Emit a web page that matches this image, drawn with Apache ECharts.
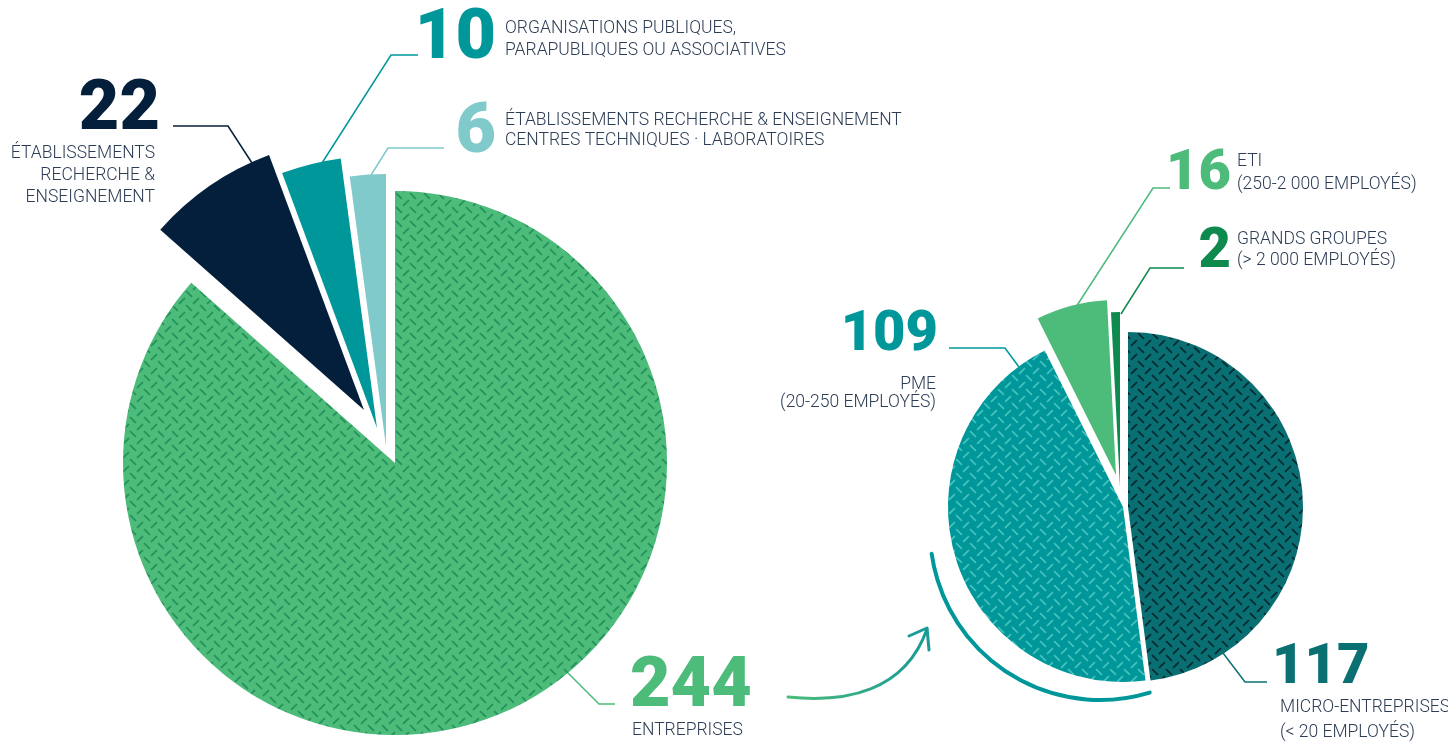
<!DOCTYPE html>
<html>
<head>
<meta charset="utf-8">
<title>Répartition des adhérents</title>
<script src="https://cdn.jsdelivr.net/npm/echarts@6/dist/echarts.min.js"></script>
<style>
  html, body { margin: 0; padding: 0; background: #fff; }
  #chart { width: 1448px; height: 745px; }
</style>
</head>
<body>
<div id="chart"></div>
<script>
// données : répartition des membres
const leftValues = [244, 22, 10, 6]
const leftLabels = [
  'ENTREPRISES',
  'ÉTABLISSEMENTS\nRECHERCHE &\nENSEIGNEMENT',
  'ORGANISATIONS PUBLIQUES,\nPARAPUBLIQUES OU ASSOCIATIVES',
  'ÉTABLISSEMENTS RECHERCHE & ENSEIGNEMENT\nCENTRES TECHNIQUES · LABORATOIRES'
]
// détail des entreprises
const rightValues = [117, 109, 16, 2]
const rightLabels = [
  'MICRO-ENTREPRISES\n(< 20 EMPLOYÉS)',
  'PME\n(20-250 EMPLOYÉS)',
  'ETI\n(250-2 000 EMPLOYÉS)',
  'GRANDS GROUPES\n(> 2 000 EMPLOYÉS)'
]

const textColor = '#2c3d55'
const numFont = 'Roboto, "DejaVu Sans", sans-serif'
const txtFont = 'Roboto, "DejaVu Sans", sans-serif'

// motif "tôle larmée" dessiné dans un petit canvas
function makePattern(bg, fg) {
  const T = 14
  const c = T / Math.SQRT2
  const cv = document.createElement('canvas')
  cv.width = T
  cv.height = T
  const ctx = cv.getContext('2d')
  ctx.fillStyle = bg
  ctx.fillRect(0, 0, T, T)
  ctx.strokeStyle = fg
  ctx.lineWidth = 1.7
  const half = c * 0.42
  for (let i = -3; i <= 4; i++) {
    for (let j = -3; j <= 3; j++) {
      const u = (i + 0.5) * c
      const v = (j + 0.5) * c
      let u1, v1, u2, v2
      if (((i + j) % 2 + 2) % 2 === 0) {
        u1 = u - half; u2 = u + half; v1 = v; v2 = v
      } else {
        v1 = v - half; v2 = v + half; u1 = u; u2 = u
      }
      ctx.beginPath()
      ctx.moveTo((u1 + v1) / Math.SQRT2, (u1 - v1) / Math.SQRT2)
      ctx.lineTo((u2 + v2) / Math.SQRT2, (u2 - v2) / Math.SQRT2)
      ctx.stroke()
    }
  }
  return { image: cv, repeat: 'repeat' }
}

const leftColors = [makePattern('#4dbb7a', '#23925a'), '#041f3c', '#00979a', '#80cacc']
const rightColors = [makePattern('#0a6f73', '#04292e'), makePattern('#00979a', '#45c3be'), '#4dbb7a', '#0f8a4e']
const leftTextColors = ['#4dbb7a', '#041f3c', '#00979a', '#80cacc']
const rightTextColors = ['#0a7072', '#00979a', '#4dbb7a', '#0f8a4e']

// position des camemberts et décalage des parts détachées
const leftPie = { cx: 395, cy: 463, r: 272 }
const leftShift = [[0, 0], [-31, -53], [-18, -35], [-9, -17]]
const rightPie = { cx: 1128, cy: 507, r: 175 }
const rightShift = [[0, 0], [-5, 0], [-12, -32], [-8, -20]]

// une série par part, les autres parts transparentes, pour pouvoir décaler chacune
function sliceSeries(pie, shift, values, colors, idx) {
  return {
    type: 'pie',
    center: [pie.cx + shift[idx][0], pie.cy + shift[idx][1]],
    radius: pie.r,
    startAngle: 90,
    clockwise: true,
    silent: true,
    label: { show: false },
    labelLine: { show: false },
    emphasis: { disabled: true },
    data: values.map(function (v, i) {
      return {
        value: v,
        itemStyle: { color: i === idx ? colors[idx] : 'rgba(0,0,0,0)', borderWidth: 0 }
      }
    })
  }
}

const series = []
leftValues.forEach(function (v, i) {
  series.push(sliceSeries(leftPie, leftShift, leftValues, leftColors, i))
})
rightValues.forEach(function (v, i) {
  series.push(sliceSeries(rightPie, rightShift, rightValues, rightColors, i))
})

function numText(x, y, value, color, size, align) {
  return {
    type: 'text', silent: true,
    style: {
      x: x, y: y, text: String(value), fill: color,
      font: '900 ' + size + 'px ' + numFont,
      textAlign: align, align: align,
      textVerticalAlign: 'middle', verticalAlign: 'middle'
    }
  }
}
function descText(x, y, text, align, lh) {
  return {
    type: 'text', silent: true,
    style: {
      x: x, y: y, text: text, fill: textColor,
      font: '300 17.5px ' + txtFont, lineHeight: lh,
      textAlign: align, align: align,
      textVerticalAlign: 'middle', verticalAlign: 'middle'
    }
  }
}
function leader(points, color) {
  return {
    type: 'polyline', silent: true,
    shape: { points: points },
    style: { stroke: color, lineWidth: 1.5, fill: null }
  }
}

const graphic = [
  // camembert de gauche
  numText(630, 688, leftValues[0], leftTextColors[0], 70, 'left'),
  descText(632, 731, leftLabels[0], 'left', 22),
  leader([[568, 673], [599, 704], [615, 704]], leftTextColors[0]),

  numText(160, 111, leftValues[1], leftTextColors[1], 70, 'right'),
  descText(155, 176, leftLabels[1], 'right', 22),
  leader([[252, 163], [228, 126], [173, 126]], leftTextColors[1]),

  numText(496, 40, leftValues[2], leftTextColors[2], 70, 'right'),
  descText(505, 40, leftLabels[2], 'left', 22),
  leader([[322, 163], [391, 55], [418, 55]], leftTextColors[2]),

  numText(496, 134, leftValues[3], leftTextColors[3], 70, 'right'),
  descText(505, 131, leftLabels[3], 'left', 20),
  leader([[371, 175], [388, 148], [444, 148]], leftTextColors[3]),

  // camembert de droite
  numText(1272, 669, rightValues[0], rightTextColors[0], 56, 'left'),
  descText(1280, 720, rightLabels[0], 'left', 25),
  leader([[1223, 653], [1245, 682], [1267, 682]], rightTextColors[0]),

  numText(938, 336, rightValues[1], rightTextColors[1], 56, 'right'),
  descText(936, 394, rightLabels[1], 'right', 18),
  leader([[1019, 367], [1005, 348], [949, 348]], rightTextColors[1]),

  numText(1231, 175, rightValues[2], rightTextColors[2], 56, 'right'),
  descText(1237, 173, rightLabels[2], 'left', 23),
  leader([[1076, 307], [1153, 188], [1170, 188]], rightTextColors[2]),

  numText(1231, 253, rightValues[3], rightTextColors[3], 56, 'right'),
  descText(1237, 250, rightLabels[3], 'left', 21),
  leader([[1121, 314], [1150, 268], [1184, 268]], rightTextColors[3]),

  // flèche de liaison
  {
    type: 'bezierCurve', silent: true,
    shape: { x1: 788, y1: 697, cpx1: 845, cpy1: 703, cpx2: 905, cpy2: 692, x2: 927, y2: 629 },
    style: {
      fill: null, lineWidth: 3, lineCap: 'round',
      stroke: new echarts.graphic.LinearGradient(0, 0, 1, 0, [
        { offset: 0, color: '#4dbb7a' },
        { offset: 1, color: '#1a9a96' }
      ])
    }
  },
  {
    type: 'polyline', silent: true,
    shape: { points: [[909, 636], [927, 628], [929, 650]] },
    style: { stroke: '#1a9a96', lineWidth: 3, lineCap: 'round', lineJoin: 'round', fill: null }
  },
  {
    type: 'arc', silent: true,
    shape: { cx: 1100, cy: 530, r: 170, startAngle: 73 * Math.PI / 180, endAngle: 172 * Math.PI / 180, clockwise: true },
    style: { stroke: '#00979a', lineWidth: 4, lineCap: 'round', fill: null }
  }
]

const myChart = echarts.init(document.getElementById('chart'))
myChart.setOption({
  backgroundColor: '#ffffff',
  animation: false,
  series: series,
  graphic: graphic
})
window.addEventListener('resize', function () {
  myChart.resize()
})
</script>
</body>
</html>
